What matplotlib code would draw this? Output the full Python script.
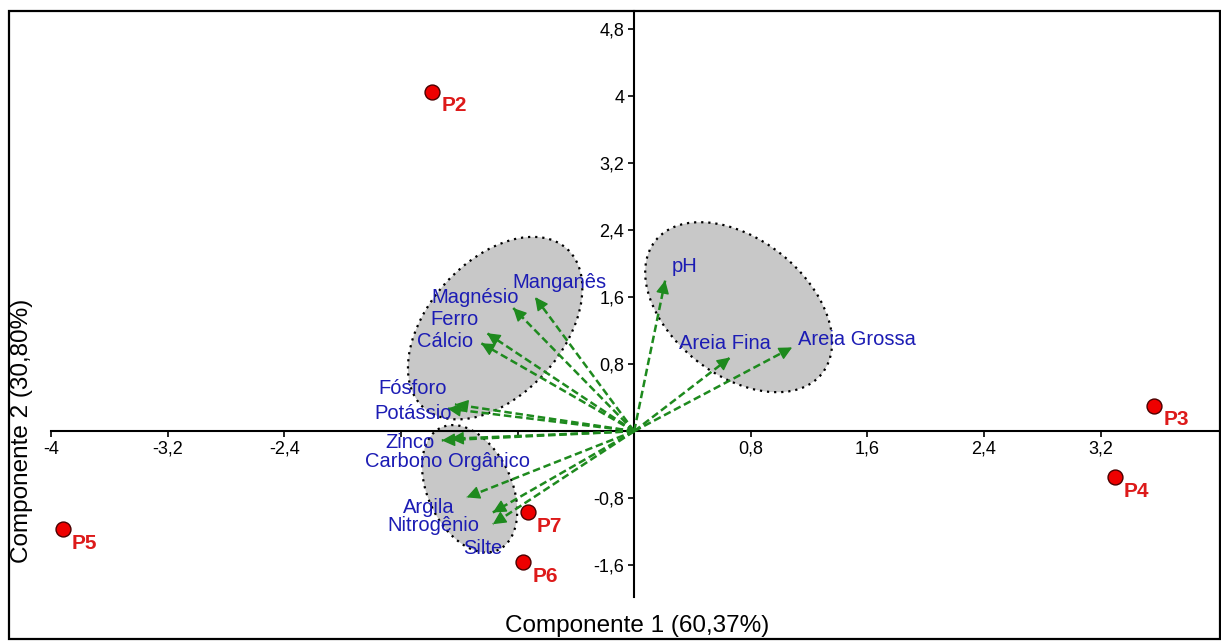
import matplotlib
matplotlib.use('Agg')
import matplotlib.pyplot as plt
from matplotlib.patches import Ellipse, Rectangle
from matplotlib.transforms import ScaledTranslation

plt.rcParams['font.family'] = ['Liberation Sans', 'DejaVu Sans']

# pontos (escores)
pontos = ['P2', 'P3', 'P4', 'P5', 'P6', 'P7']
pontos_x = [-1.386, 3.57, 3.30, -3.92, -0.762, -0.728]
pontos_y = [4.05, 0.30, -0.55, -1.17, -1.564, -0.967]

# variaveis (cargas) - ponta da seta e posicao do rotulo
variaveis = ['pH', 'Areia Fina', 'Areia Grossa', 'Manganês', 'Magnésio', 'Ferro',
             'Cálcio', 'Fósforo', 'Potássio', 'Zinco', 'Carbono Orgânico',
             'Argila', 'Nitrogênio', 'Silte']
seta_x = [0.213, 0.659, 1.084, -0.68, -0.83, -1.01, -1.05, -1.23, -1.28,
          -1.26, -1.32, -1.15, -0.97, -0.97]
seta_y = [1.80, 0.88, 1.00, 1.60, 1.47, 1.17, 1.05, 0.32, 0.27, -0.09,
          -0.11, -0.79, -0.97, -1.11]
rotulo_x = [0.343, 0.625, 1.53, -0.51, -1.09, -1.23, -1.30, -1.52, -1.52,
            -1.54, -1.28, -1.41, -1.38, -1.04]
rotulo_y = [1.97, 1.05, 1.10, 1.77, 1.60, 1.33, 1.07, 0.51, 0.21, -0.14,
            -0.36, -0.91, -1.13, -1.40]

# grupos (elipses): centro em dados, eixos em polegadas, angulo
elip_cx = [-0.954, 0.717, -1.129]
elip_cy = [1.23, 1.48, -0.687]
elip_w = [2.14, 2.13, 1.35]
elip_h = [1.34, 1.36, 0.84]
elip_ang = [48, -38.5, -65]

xticks = [-4, -3.2, -2.4, -1.6, -0.8, 0.8, 1.6, 2.4, 3.2]
xticklabels = ['-4', '-3,2', '-2,4', '', '', '0,8', '1,6', '2,4', '3,2']
yticks = [-1.6, -0.8, 0.8, 1.6, 2.4, 3.2, 4, 4.8]
yticklabels = ['-1,6', '-0,8', '0,8', '1,6', '2,4', '3,2', '4', '4,8']

verde = '#1e8a1e'
azul = '#1c1cb4'
vermelho = '#dd1a1a'

fig = plt.figure(figsize=(12.21, 6.42), dpi=100)
ax = fig.add_axes([9/1221, 3/642, 1211/1221, 628/642])
ax.set_xlim(-4.29, 4.02)
ax.set_ylim(-2.48, 5.015)

# eixos cruzando na origem
for s in ['top', 'right']:
    ax.spines[s].set_visible(False)
ax.spines['left'].set_position(('data', 0))
ax.spines['bottom'].set_position(('data', 0))
ax.spines['left'].set_bounds(-1.98, 5.015)
ax.spines['bottom'].set_bounds(-4, 4.02)
ax.spines['left'].set_linewidth(1.5)
ax.spines['bottom'].set_linewidth(1.5)
ax.set_xticks(xticks)
ax.set_xticklabels(xticklabels)
ax.set_yticks(yticks)
ax.set_yticklabels(yticklabels)
ax.tick_params(direction='out', length=4, width=1.2, labelsize=13, pad=3)
ax.patch.set_visible(False)

# moldura
ax.add_patch(Rectangle((0, 0), 1, 1, transform=ax.transAxes, fill=False,
                       lw=1.6, ec='black', clip_on=False))

for cx, cy, w, h, a in zip(elip_cx, elip_cy, elip_w, elip_h, elip_ang):
    tr = fig.dpi_scale_trans + ScaledTranslation(cx, cy, ax.transData)
    ax.add_patch(Ellipse((0, 0), w, h, angle=a, transform=tr, fc='#c8c8c8',
                         ec='black', lw=1.6, ls=(0, (1, 2.2)), zorder=1))

for x, y in zip(seta_x, seta_y):
    ax.plot([0, x], [0, y], ls=(0, (3, 1.5)), lw=1.8, color=verde, zorder=3)
    ax.annotate('', xy=(x, y), xytext=(x * 0.97, y * 0.97),
                arrowprops=dict(arrowstyle='-|>', color=verde, lw=1,
                                mutation_scale=20, shrinkA=0, shrinkB=0),
                zorder=3)

for nome, x, y in zip(variaveis, rotulo_x, rotulo_y):
    ax.text(x, y, nome, ha='center', va='center', color=azul, fontsize=14.5,
            zorder=4)

ax.scatter(pontos_x, pontos_y, s=115, c='#ee0000', edgecolors='#4a0000',
           linewidths=1, zorder=5)
for nome, x, y in zip(pontos, pontos_x, pontos_y):
    ax.annotate(nome, (x, y), xytext=(6.5, -10), textcoords='offset points',
                ha='left', va='center', color=vermelho, fontsize=15,
                fontweight='bold', zorder=5)

fig.text(637.5/1221, 1 - 626/642, 'Componente 1 (60,37%)', ha='center',
         va='center', fontsize=17.5)
fig.text(22/1221, 1 - 431/642, 'Componente 2 (30,80%)', ha='center',
         va='center', rotation=90, fontsize=17.5)

fig.savefig('out.png', dpi=100)
